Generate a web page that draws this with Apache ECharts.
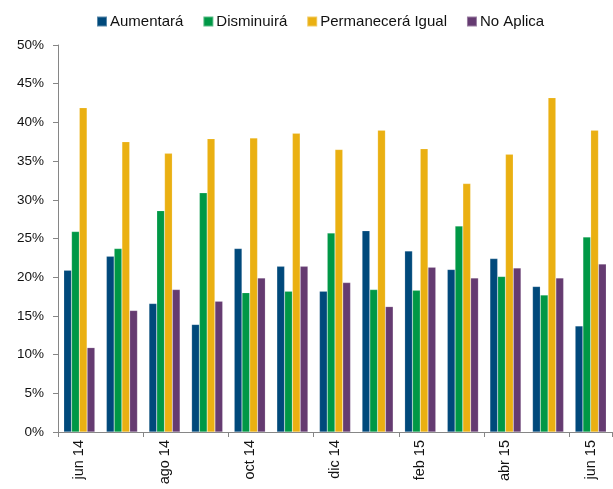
<!DOCTYPE html>
<html lang="es">
<head>
    <meta charset="UTF-8">
    <title>Expectativas</title>
    <script src="https://cdn.jsdelivr.net/npm/echarts@6/dist/echarts.min.js"></script>
    <style>
        *{
            padding: 0;
            margin: 0;
        }
        html, body{
            width: 100%;
            height: 100%;
            background: #fff;
        }
        .chart{
            width: 613px;
            height: 489px;
        }
    </style>
</head>
<body>
<div class="chart"></div>
<script>
    // meses (solo se rotula uno de cada dos)
    let months = ['jun 14','jul 14','ago 14','sep 14','oct 14','nov 14','dic 14',
                  'ene 15','feb 15','mar 15','abr 15','may 15','jun 15'];
    let aumentara   = [20.9, 22.7, 16.6, 13.9, 23.7, 21.4, 18.2, 26.0, 23.4, 21.0, 22.4, 18.8, 13.7];
    let disminuira  = [25.9, 23.7, 28.6, 30.9, 18.0, 18.2, 25.7, 18.4, 18.3, 26.6, 20.1, 17.7, 25.2];
    let permanecera = [41.9, 37.5, 36.0, 37.9, 38.0, 38.6, 36.5, 39.0, 36.6, 32.1, 35.9, 43.2, 39.0];
    let noAplica    = [10.9, 15.7, 18.4, 16.9, 19.9, 21.4, 19.3, 16.2, 21.3, 19.9, 21.2, 19.9, 21.7];

    let names = ['Aumentará','Disminuirá','Permanecerá Igual','No Aplica'];
    let colors = ['#00497b','#009846','#eab012','#653b71'];
    let values = [aumentara, disminuira, permanecera, noAplica];

    let font = '"Liberation Sans", Arial, sans-serif';

    let myChart = echarts.init(document.querySelector('.chart'));
    let series = names.map((name, i) => ({
        name,
        type: 'bar',
        data: values[i],
        barGap: '0%',
        barCategoryGap: '27%',
        itemStyle: {
            color: colors[i],
            borderColor: 'rgba(255,255,255,0.35)',
            borderWidth: 0.5
        }
    }));

    myChart.setOption({
        animation: false,
        color: colors,
        textStyle: {fontFamily: font},
        legend: {
            top: 9,
            left: 91,
            itemWidth: 10,
            itemHeight: 10,
            itemGap: 19,
            icon: 'rect',
            textStyle: {fontSize: 15, color: '#111', fontFamily: font, padding: [0, 0, 0, -2]},
            data: names
        },
        grid: {left: 58, right: 1, top: 45, bottom: 57},
        xAxis: {
            type: 'category',
            data: months,
            axisLine: {lineStyle: {color: '#868686', width: 1}},
            axisTick: {show: true, interval: 1, length: 5, lineStyle: {color: '#868686'}},
            axisLabel: {interval: 1, rotate: 90, margin: 8, fontSize: 14.5, color: '#111', fontFamily: font}
        },
        yAxis: {
            type: 'value',
            min: 0,
            max: 50,
            interval: 5,
            axisLine: {show: true, lineStyle: {color: '#868686', width: 1}},
            axisTick: {show: true, length: 5, lineStyle: {color: '#868686'}},
            splitLine: {show: false},
            axisLabel: {formatter: '{value}%', fontSize: 13.5, color: '#111', margin: 14, fontFamily: font}
        },
        series
    });
</script>
</body>
</html>
